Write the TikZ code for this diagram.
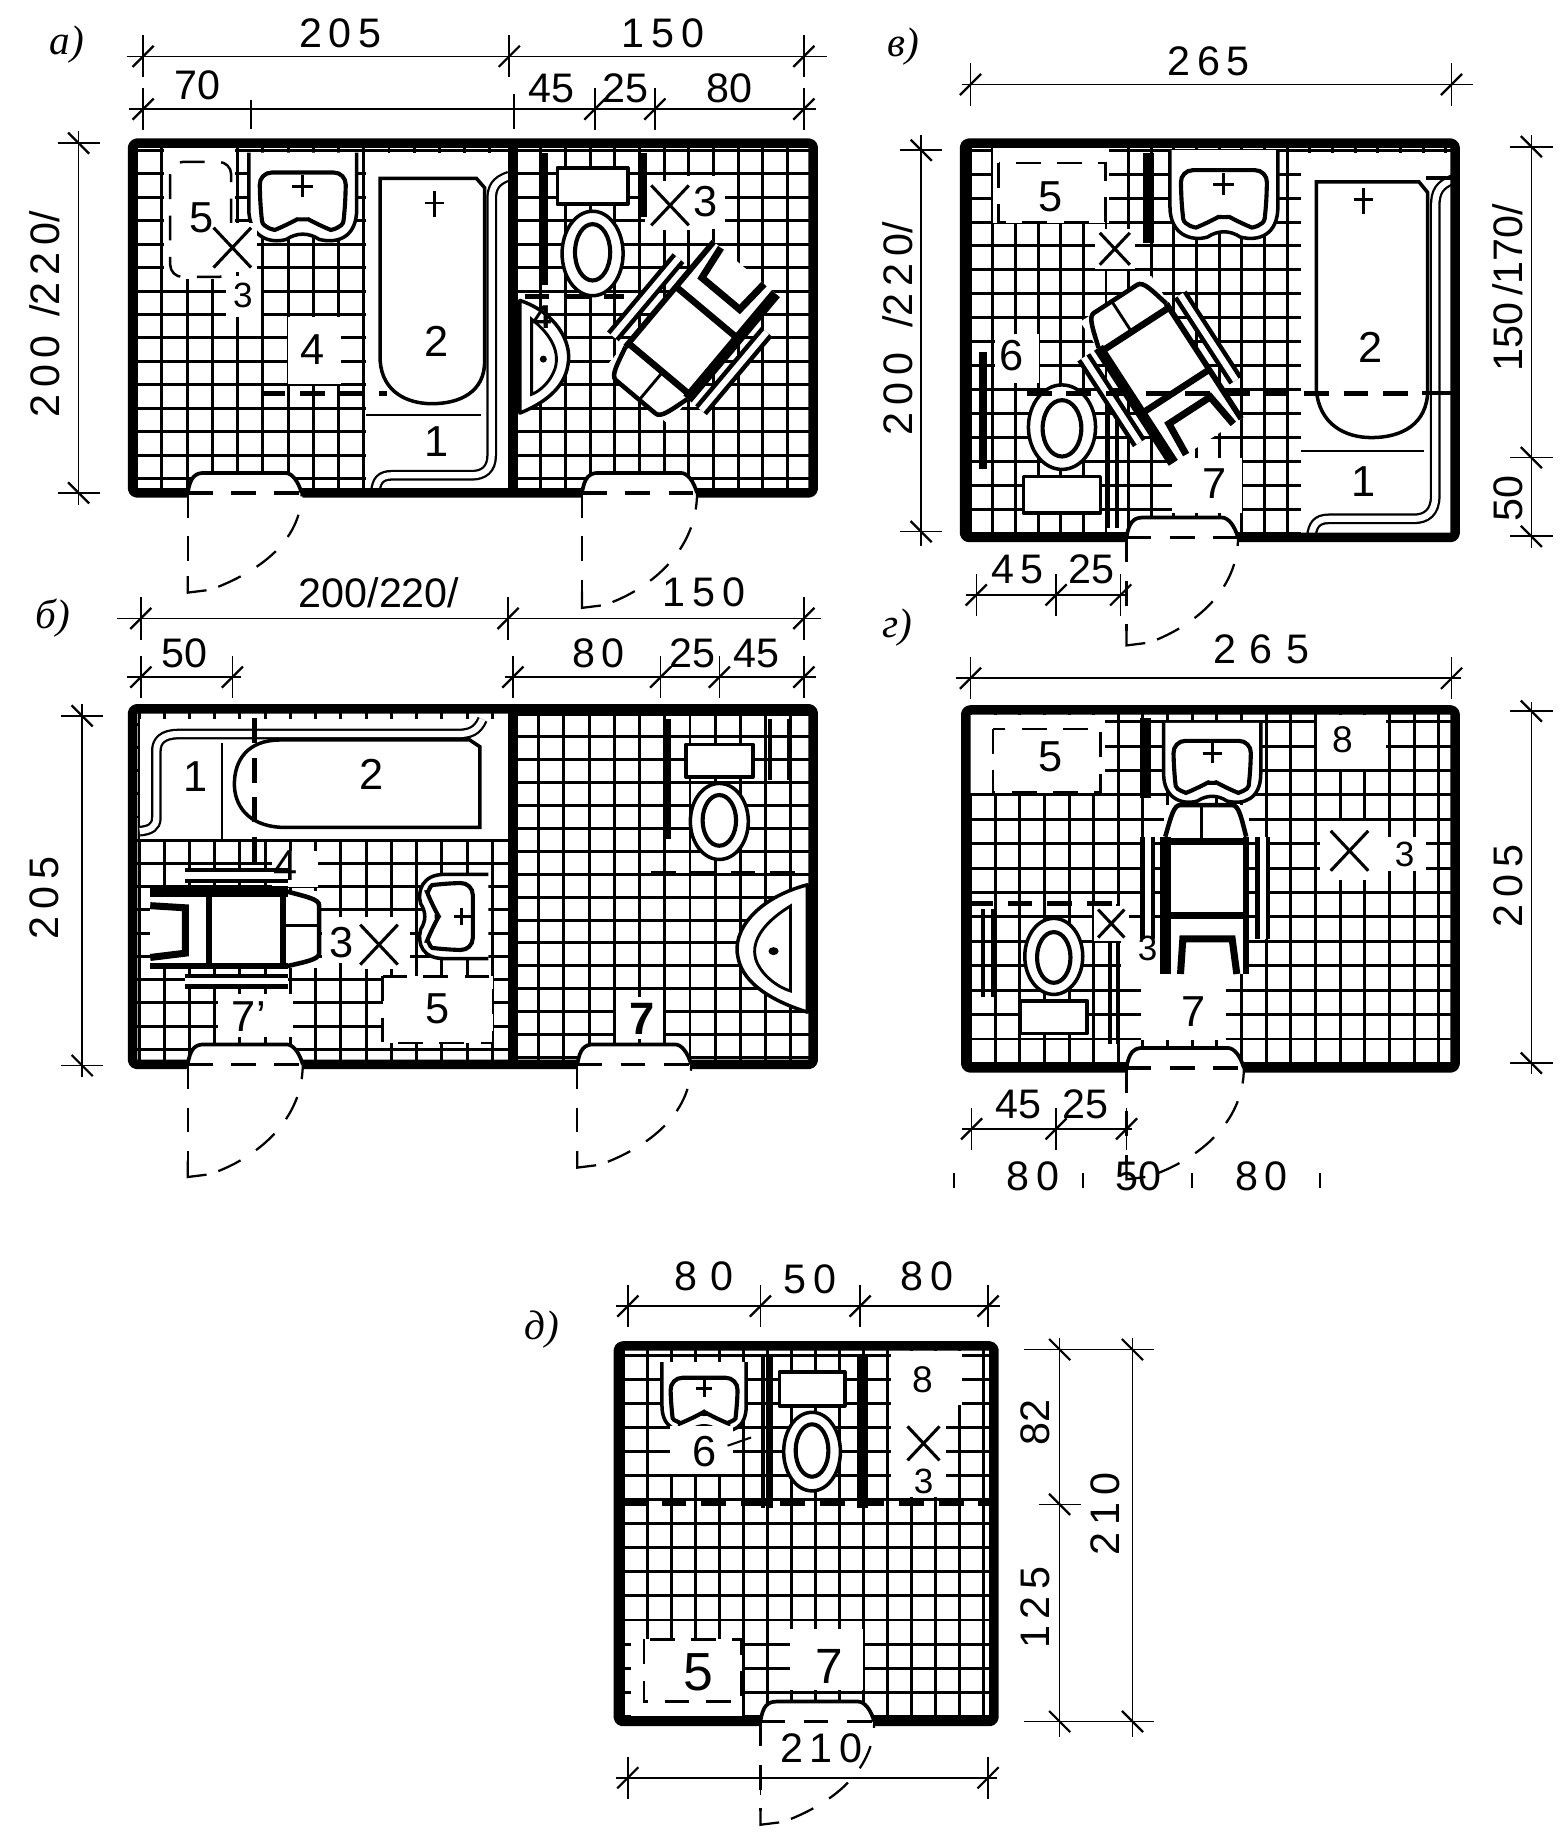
\documentclass[tikz,border=0pt]{standalone}
\usepackage{fontspec}
\setmainfont{Liberation Sans}
\newfontfamily\tagfont{Liberation Serif}
\tikzset{
  wallline/.style={line width=2.3pt,rounded corners=1pt,line join=round},
  tile/.style={line width=.72pt},
  fixture/.style={line width=.85pt,fill=white,line join=round},
  thinline/.style={line width=.5pt},
  dimline/.style={line width=.4pt},
  thickcut/.style={line width=1.2pt,dash pattern=on 6pt off 3.6pt},
  leaf/.style={line width=.55pt,dash pattern=on 6pt off 4.5pt},
  dashbox/.style={line width=.6pt,fill=white,dash pattern=on 6pt off 4pt},
  solidbar/.style={line width=1.8pt},
  tubeline/.style={line width=.55pt,double=white,double distance=1.5pt},
  patch/.style={fill=white},
  numtext/.style={font=\fontsize{10.5}{11}\selectfont,inner sep=0pt},
  smalltext/.style={font=\fontsize{8.5}{9}\selectfont,inner sep=0pt},
  dimtext/.style={font=\fontsize{10}{10}\selectfont,inner sep=0pt},
  tagtext/.style={font=\tagfont\itshape\fontsize{10}{10}\selectfont,inner sep=0pt},
  tick/.pic={
    \draw[dimline] (0,-18)--(0,18);
    \draw[line width=.55pt] (-9,9)--(9,-9);
  },
  cross/.pic={
    \fill[white] (-21,-21) rectangle (21,21);
    \draw[line width=.75pt] (-16,-17)--(16,17) (-16,17)--(16,-17);
  },
  toilet/.pic={
    \draw[fixture] (-30,-73) rectangle (30,-42);
    \draw[fixture] (0,0) circle[x radius=26,y radius=36];
    \draw[line width=1pt] (0,-1) circle[x radius=15,y radius=24];
  },
  sinkbowl/.pic={
    \draw[fixture] (-46,-40) -- (-46,8) .. controls (-46,32) and (-28,38) .. (-14,34)
      .. controls (-5,28) and (5,28) .. (14,34) .. controls (30,38) and (46,32) .. (46,8) -- (46,-40);
    \draw[line width=1pt,rounded corners=3pt] (-37,-23) -- (-36,8) .. controls (-34,24) and (-24,26) .. (-14,22)
      .. controls (-5,17) and (5,17) .. (14,22) .. controls (24,26) and (34,24) .. (36,8) -- (37,-23) -- cycle;
    \draw[line width=.7pt] (-9,-11)--(9,-11) (0,-21)--(0,-2);
  },
  basin/.pic={
    \draw[fixture] (0,0) .. controls (30,10) and (45,35) .. (41,55) .. controls (38,75) and (20,88) .. (0,96) -- cycle;
    \draw[line width=.7pt] (10,16) .. controls (28,30) and (34,45) .. (30,58) .. controls (26,70) and (16,78) .. (10,80) -- cycle;
    \fill (20,50) circle[radius=3];
  },
  bathtub/.pic={
    \fill[white] (0,0) rectangle (122,288);
    \draw[line width=.85pt] (12,22) -- (12,178) .. controls (14,204) and (35,214) .. (56,214)
      .. controls (80,214) and (101,204) .. (101,178) -- (101,30) -- (94,22) -- cycle;
    \draw[thinline] (0,224) -- (98,224);
    \draw[tubeline] (122,20) .. controls (110,24) and (107,30) .. (107,40) -- (107,258)
      .. controls (107,270) and (100,275) .. (90,275) -- (22,275) .. controls (12,275) and (9,280) .. (8,288);
  },
  chair/.pic={
    \fill[white] (-36,-72) rectangle (36,72);
    \draw[line width=2.6pt] (-35,-45) -- (-35,72);
    \draw[line width=1.4pt] (34,-45) -- (34,72);
    \draw[line width=1.1pt] (-35,-45) .. controls (-30,-62) and (-28,-72) .. (-22,-72) -- (22,-72) .. controls (28,-72) and (30,-60) .. (34,-45);
    \draw[line width=.7pt] (-4,-72)--(-4,-42);
    \draw[line width=1.6pt] (-35,-41)--(34,-41) (-35,22)--(34,22);
    \draw[line width=1.7pt] (-22,72) -- (-20,42) -- (22,42) -- (26,72);
    \draw[tubeline,line width=1.1pt] (-50,-45) -- (-50,42);
    \draw[tubeline,line width=1.1pt] (48,-45) -- (48,42);
  }
}
\newcommand{\tiles}[8]{% room, first lines, pitch
  \begin{scope}
    \clip (#1,#2) rectangle (#3,#4);
    \foreach \k in {-2,...,32} {
      \draw[tile] ({#5+\k*#7},#2) -- ({#5+\k*#7},#4);
      \draw[tile] (#1,{#6+\k*#8}) -- (#3,{#6+\k*#8});
    }
  \end{scope}}
\newcommand{\doorway}[4]{% left x, wall y, width, leaf length
  \fill[white] (#1-1,#2+5) -- (#1,#2) .. controls (#1+2,#2-13) and (#1+6,#2-17) .. (#1+14,#2-17)
    -- (#1+#3-14,#2-17) .. controls (#1+#3-8,#2-17) and (#1+#3-3,#2-10) .. (#1+#3,#2) -- (#1+#3+1,#2+5) -- cycle;
  \draw[line width=.9pt] (#1,#2) .. controls (#1+2,#2-13) and (#1+6,#2-17) .. (#1+14,#2-17)
    -- (#1+#3-14,#2-17) .. controls (#1+#3-8,#2-17) and (#1+#3-3,#2-10) .. (#1+#3,#2);
  \draw[leaf,line width=.8pt] (#1,#2) -- (#1+#3,#2);
  \draw[leaf] (#1,#2) -- (#1,#2+#4-12);
  \draw[line width=.55pt] (#1,#2+#4-14) -- (#1,#2+#4) -- (#1+16,#2+#4-2);
  \draw[leaf] (#1+26,#2+#4-5) .. controls (#1+#3*.6,#2+#4-18) and (#1+#3,#2+#4*.5) .. (#1+#3,#2);}
\newcommand{\hdim}[4]{% y, from, to, ticks
  \draw[dimline] (#2,#1)--(#3,#1);
  \foreach \t in {#4} {\pic at (\t,#1) {tick};}}
\newcommand{\vdim}[4]{% x, from, to, ticks
  \draw[dimline] (#1,#2)--(#1,#3);
  \foreach \t in {#4} {\pic[rotate=90] at (#1,\t) {tick};}}
\begin{document}
\begin{tikzpicture}[x=.01cm,y=-.01cm]
  \useasboundingbox (0,0) rectangle (1330,1568);

  % plan a
  \tiles{113}{122}{437}{420}{138}{148}{21.5}{20}
  \tiles{437}{122}{693}{420}{461}{148}{21}{20}
  \fill[patch] (245,270) rectangle (291,327);
  \fill[patch] (193,235) rectangle (222,270);
  \pic at (312,130) {bathtub};
  \pic at (258,170) {sinkbowl};
  \fill[patch] (140,126) rectangle (200,238);
  \draw[dashbox,rounded corners=3pt] (145,138) rectangle (197,236);
  \pic at (198,211) {cross};
  \fill[patch] (585,150) rectangle (618,195);
  \pic at (571,175) {cross};
  \draw[solidbar] (464,130)--(464,243) (548,130)--(548,185);
  \pic at (505,216) {toilet};
  \pic at (443,256) {basin};
  \pic[rotate=140] at (588,283) {chair};
  \draw[thickcut] (222,335)--(330,335);
  \draw[thickcut] (447,253)--(532,253);
  \node[numtext] (a5) at (172,186) {5};
  \node[smalltext] (a3) at (207,252) {3};
  \node[numtext] (a4) at (266,298) {4};
  \node[numtext] (a2) at (372,291) {2};
  \node[numtext] (a1) at (372,376) {1};
  \node[numtext] (a33) at (601,172) {3};
  \node[numtext,font=\bfseries\fontsize{8}{8}\selectfont] (a44) at (462,270) {4};
  \draw[line width=.7pt] (362,173)--(378,173) (370,163)--(370,185);
  \draw[wallline] (113,122) rectangle (693,420);
  \draw[line width=2.3pt] (437,122)--(437,420);
  \doorway{160}{420}{97}{85}
  \doorway{496}{420}{98}{98}
  \node[tagtext] (atag) at (57,38) {а)};
  \hdim{48}{108}{705}{122,434,685}
  \hdim{93}{110}{695}{122,507,558,685}
  \draw[dimline] (214,85)--(214,110) (438,80)--(438,110);
  \node[dimtext] (a205) at (290,28) {2\,0\,5};
  \node[dimtext] (a150) at (565,28) {1\,5\,0};
  \node[dimtext] (a70) at (168,73) {70};
  \node[dimtext] (a45) at (470,75) {45};
  \node[dimtext] (a25) at (533,75) {25};
  \node[dimtext] (a80) at (622,75) {80};
  \vdim{67}{112}{430}{122,420}
  \node[dimtext,rotate=90] (a200) at (38,268) {2\,0\,0\, /2\,2\,0/};

  % plan b
  \tiles{113}{604}{437}{907}{140}{617}{21.5}{19.8}
  \tiles{437}{604}{693}{907}{459}{628}{21.5}{19.5}
  \pic[cm={0,.836,1.09,0,(433,715)}] {bathtub};
  \fill[patch] (232,725) rectangle (271,756);
  \fill[patch] (274,781) rectangle (349,821);
  \fill[patch] (186,847) rectangle (250,884);
  \fill[patch] (525,850) rectangle (565,885);
  \pic[rotate=-90,scale=.78] at (385,781) {sinkbowl};
  \draw[dashbox] (326,832) rectangle (420,889);
  \pic at (323,805) {cross};
  \fill[patch] (276,781) rectangle (302,821);
  \draw[solidbar] (569,613)--(569,715);
  \draw[line width=1pt] (656,613)--(656,665) (672,613)--(672,665);
  \pic[xscale=.95,yscale=.9] at (613,700) {toilet};
  \pic[xscale=-1.44,yscale=1.13] at (688,754) {basin};
  \pic[rotate=-90,yscale=1,xscale=.92] at (200,792) {chair};
  \draw[thickcut] (217,612)--(217,745);
  \draw[thickcut] (555,744)--(690,744);
  \node[numtext] (b1) at (167,662) {1};
  \node[numtext] (b2) at (317,660) {2};
  \node[numtext] (b4) at (243,738) {4};
  \node[numtext] (b3) at (291,803) {3};
  \node[numtext] (b5) at (373,860) {5};
  \node[numtext] (b7) at (212,866) {7'};
  \node[numtext,font=\bfseries\fontsize{11}{11}\selectfont] (b77) at (547,868) {7};
  \draw[wallline] (113,604) rectangle (693,907);
  \draw[line width=2.3pt] (437,604)--(437,907);
  \doorway{160}{907}{98}{96}
  \doorway{492}{907}{97}{88}
  \node[tagtext] (btag) at (45,527) {б)};
  \hdim{527}{100}{700}{120,433,685}
  \hdim{577}{108}{205}{120,198}
  \hdim{577}{430}{695}{437,563,613,685}
  \node[dimtext] (b200) at (323,505) {200/220/};
  \node[dimtext] (b150) at (600,505) {1\,5\,0};
  \node[dimtext] (b50) at (157,557) {50};
  \node[dimtext] (b80) at (510,557) {8\,0};
  \node[dimtext] (b25) at (590,557) {25};
  \node[dimtext] (b45) at (645,557) {45};
  \vdim{70}{600}{918}{610,908}
  \node[dimtext,rotate=90] (b205) at (38,765) {2\,0\,5};

  % plan v
  \tiles{822}{122}{1240}{458}{846}{128}{19.3}{20.4}
  \pic[xscale=1.066,yscale=1.135] at (1109,130) {bathtub};
  \pic at (1043,168) {sinkbowl};
  \fill[patch] (848,285) rectangle (885,326);
  \fill[patch] (999,390) rectangle (1058,437);
  \fill[patch] (846,126) rectangle (945,190);
  \draw[dashbox] (851,139) rectangle (942,189);
  \pic[scale=.8] at (950,212) {cross};
  \draw[line width=2.6pt] (979,130)--(979,207);
  \draw[line width=2pt] (838,300)--(838,400);
  \draw[line width=.9pt] (944,335)--(944,450) (952,335)--(952,450);
  \pic[yscale=-1,xscale=1.1] at (905,364) {toilet};
  \pic[rotate=33] at (990,315) {chair};
  \draw[thickcut] (875,335)--(1212,335);
  \draw[line width=1pt] (1212,335)--(1237,335) (1215,152)--(1237,152);
  \draw[line width=.7pt] (1154,170)--(1170,170) (1162,160)--(1162,182);
  \node[numtext] (v5) at (895,168) {5};
  \node[numtext] (v6) at (862,303) {6};
  \node[numtext] (v7) at (1035,412) {7};
  \node[numtext] (v2) at (1168,296) {2};
  \node[numtext] (v1) at (1162,410) {1};
  \draw[wallline] (822,122) rectangle (1240,458);
  \doorway{960}{458}{95}{92}
  \node[tagtext] (vtag) at (770,40) {в)};
  \hdim{72}{820}{1255}{827,1237}
  \node[dimtext] (v265) at (1030,52) {2\,6\,5};
  \vdim{785}{115}{465}{128,453}
  \node[dimtext,rotate=90] (v200) at (765,280) {2\,0\,0\,\, /2\,2\,0/};
  \vdim{1305}{115}{467}{125,390,457}
  \node[dimtext,rotate=90] (v150) at (1285,245) {150\,/170/};
  \node[dimtext,rotate=90] (v50) at (1285,425) {50};
  \hdim{507}{823}{960}{832,900,955}
  \node[dimtext] (v45) at (867,485) {4\,5};
  \node[dimtext] (v25) at (930,485) {25};

  % plan g
  \tiles{823}{605}{1240}{910}{827}{615}{21}{20.8}
  \pic[scale=.9] at (1033,652) {sinkbowl};
  \fill[patch] (972,830) rectangle (1045,886);
  \fill[patch] (1122,609) rectangle (1181,655);
  \fill[patch] (1181,713) rectangle (1215,742);
  \fill[patch] (1125,700) rectangle (1181,750);
  \fill[patch] (826,609) rectangle (942,676);
  \draw[dashbox] (846,621) rectangle (938,675);
  \pic at (1150,725) {cross};
  \draw[line width=2.6pt] (976,612)--(976,680);
  \draw[line width=1pt] (838,775)--(838,850) (846,775)--(846,850);
  \draw[line width=1pt] (946,770)--(946,890) (953,770)--(953,890);
  \draw[thickcut] (825,770)--(960,770);
  \pic[yscale=-.9,xscale=.95] at (898,815) {toilet};
  \fill[patch] (955,790) rectangle (990,830);
  \pic[scale=.7] at (947,787) {cross};
  \pic at (1028,758) {chair};
  \node[numtext] (g5) at (895,645) {5};
  \node[numtext,font=\fontsize{9}{9}\selectfont] (g8) at (1144,630) {8};
  \node[smalltext] (g3) at (1197,728) {3};
  \node[smalltext] (g33) at (978,808) {3};
  \node[numtext] (g7) at (1017,862) {7};
  \draw[wallline] (823,605) rectangle (1240,910);
  \doorway{960}{910}{100}{95}
  \node[tagtext] (gtag) at (765,535) {г)};
  \hdim{578}{815}{1245}{827,1237}
  \node[dimtext] (g265) at (1075,553) {2\,\,6\,\,5};
  \vdim{1305}{598}{915}{606,906}
  \node[dimtext,rotate=90] (g205) at (1285,755) {2\,0\,5};
  \hdim{962}{820}{965}{828,900,960}
  \node[dimtext] (g45) at (868,941) {45};
  \node[dimtext] (g25) at (925,941) {25};
  \draw[dimline] (813,1000)--(813,1012) (923,1000)--(923,1012) (1016,1000)--(1016,1012) (1125,1000)--(1125,1012);
  \node[dimtext] (g80) at (880,1002) {8\,0};
  \node[dimtext] (g50) at (970,1002) {50};
  \node[dimtext] (g81) at (1075,1002) {8\,0};

  % plan d
  \tiles{527}{1147}{847}{1467}{531}{1155}{20.5}{20.5}
  \pic[scale=.78] at (600,1192) {sinkbowl};
  \fill[patch] (571,1215) rectangle (625,1256);
  \fill[patch] (759,1151) rectangle (820,1197);
  \fill[patch] (759,1197) rectangle (806,1276);
  \fill[patch] (673,1388) rectangle (735,1440);
  \fill[patch] (538,1397) rectangle (632,1462);
  \draw[dashbox] (549,1397) rectangle (632,1450);
  \pic[scale=.85] at (787,1230) {cross};
  \draw[line width=.9pt] (650,1155)--(650,1285) (657,1155)--(657,1285);
  \draw[line width=2.6pt] (735,1155)--(735,1285);
  \pic[scale=.93] at (692,1237) {toilet};
  \draw[thickcut] (530,1281)--(845,1281);
  \draw[thinline] (620,1232)--(640,1225);
  \node[numtext] (d6) at (600,1237) {6};
  \node[numtext,font=\fontsize{9}{9}\selectfont] (d8) at (786,1176) {8};
  \node[smalltext] (d3) at (787,1262) {3};
  \node[numtext,font=\fontsize{13}{13}\selectfont] (d5) at (595,1425) {5};
  \node[numtext,font=\fontsize{12}{12}\selectfont] (d7) at (707,1420) {7};
  \draw[wallline] (527,1147) rectangle (847,1467);
  \doorway{648}{1467}{97}{88}
  \node[tagtext] (dtag) at (462,1133) {д)};
  \hdim{1113}{525}{852}{535,648,733,842}
  \node[dimtext] (d80) at (600,1088) {8\,\,0};
  \node[dimtext] (d50) at (690,1090) {5\,0};
  \node[dimtext] (d81) at (790,1088) {8\,0};
  \hdim{1515}{525}{850}{535,842}
  \draw[dimline] (648,1505)--(648,1530);
  \node[dimtext] (d210) at (700,1490) {2\,1\,0};
  \vdim{903}{1140}{1480}{1150,1282,1467}
  \vdim{965}{1140}{1480}{1150,1467}
  \draw[dimline] (873,1150)--(975,1150) (873,1467)--(975,1467);
  \node[dimtext,rotate=90] (d82) at (882,1212) {82};
  \node[dimtext,rotate=90] (d125) at (882,1370) {1\,2\,5};
  \node[dimtext,rotate=90] (d210v) at (942,1290) {2\,1\,0};
\end{tikzpicture}
\end{document}
